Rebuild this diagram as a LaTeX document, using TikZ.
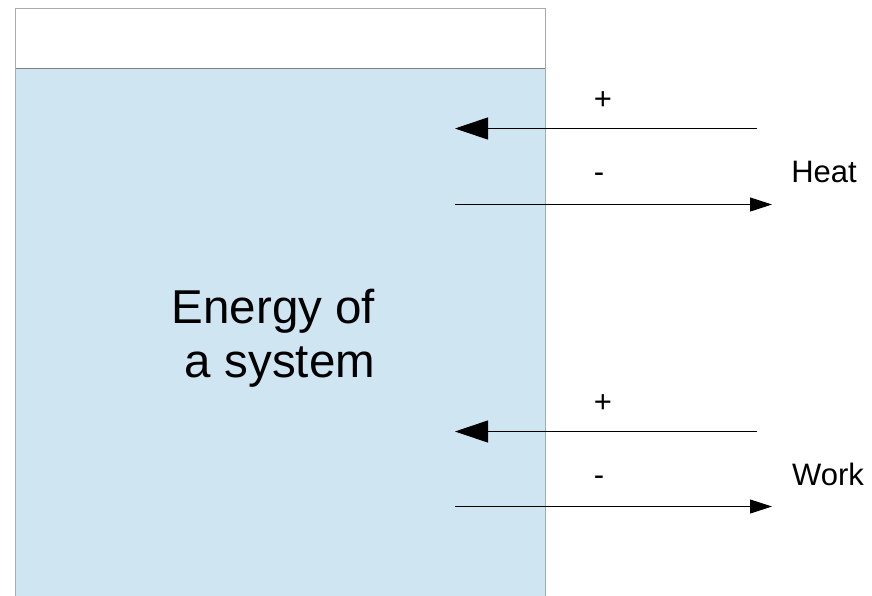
\documentclass[tikz,border=0pt]{standalone}
\usepackage{fontspec}
\setmainfont{Liberation Sans}
\usetikzlibrary{arrows.meta}
\definecolor{sysblue}{RGB}{207,229,242}
\definecolor{boxgray}{RGB}{170,170,170}
\definecolor{linegray}{RGB}{128,128,128}
\begin{document}
\begin{tikzpicture}[x=1pt,y=-1pt,
  inarrow/.style={draw=black, line width=1pt, -{Triangle[length=33pt,width=22pt]}},
  outarrow/.style={draw=black, line width=1pt, -{Triangle[length=22pt,width=14pt]}},
  lbl/.style={font=\fontsize{31}{36}\selectfont, inner sep=0pt},
  bigtext/.style={font=\fontsize{47.5}{54}\selectfont, inner sep=0pt, align=center}]
\useasboundingbox (0,0) rectangle (872,595);
\fill[white] (0,0) rectangle (872,595);
% system box
\fill[sysblue] (15.5,68) rectangle (545,600);
\draw[boxgray, line width=1pt] (15.5,600) -- (15.5,8.5) -- (545,8.5) -- (545,600);
\draw[linegray, line width=1pt] (15.5,68) -- (545,68);
\node[bigtext, anchor=base] (sys) at (280,377) {Energy of\hspace*{0.278em}\\a system};
% heat arrows
\coordinate (h1s) at (757,128.5);
\coordinate (h1e) at (455,128.5);
\coordinate (h2s) at (455,204.5);
\coordinate (h2e) at (772,204.5);
\draw[inarrow] (h1s) -- (h1e);
\draw[outarrow] (h2s) -- (h2e);
\node[lbl] (hplus) at (603,101) {+};
\node[lbl] (hminus) at (599,178) {-};
\node[lbl] (heat) at (824,172) {Heat};
% work arrows
\coordinate (w1s) at (757,431.5);
\coordinate (w1e) at (455,431.5);
\coordinate (w2s) at (455,506.5);
\coordinate (w2e) at (772,506.5);
\draw[inarrow] (w1s) -- (w1e);
\draw[outarrow] (w2s) -- (w2e);
\node[lbl] (wplus) at (603,404) {+};
\node[lbl] (wminus) at (599,481) {-};
\node[lbl] (work) at (828,474) {Work};
\end{tikzpicture}
\end{document}
